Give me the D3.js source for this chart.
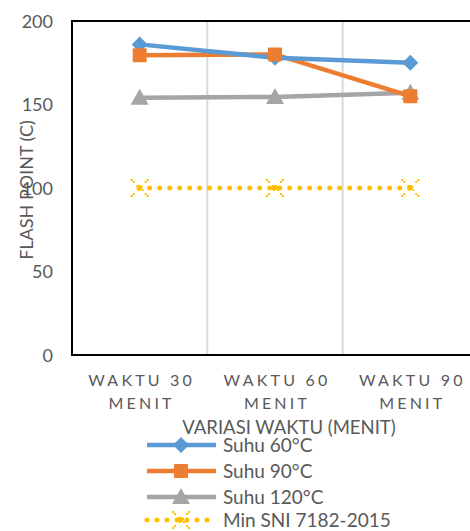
<!DOCTYPE html>
<html lang="en">
  <head>
    <script src="https://d3js.org/d3.v7.min.js"></script>
    <meta charset="utf-8">
    <style>
    body { margin: 0; background: #fff; overflow: hidden; }
    text { font-family: Lato, "Open Sans", sans-serif; fill: #595959; }
    </style>
    <title>Flash point</title>
  </head>
  <body>
    <script>
// data
var categories = ['WAKTU 30 MENIT', 'WAKTU 60 MENIT', 'WAKTU 90 MENIT'];
var suhu60 = [186, 178, 175];
var suhu90 = [179.5, 180, 155];
var suhu120 = [154, 154.5, 157];
var minSNI = [100, 100, 100];
var yTicks = [0, 50, 100, 150, 200];

var series = [
  {name: 'Suhu 60\u00B0C', values: suhu60, color: '#5B9BD5', marker: 'diamond'},
  {name: 'Suhu 90\u00B0C', values: suhu90, color: '#ED7D31', marker: 'square'},
  {name: 'Suhu 120\u00B0C', values: suhu120, color: '#A5A5A5', marker: 'triangle'},
  {name: 'Min SNI 7182-2015', values: minSNI, color: '#FFC000', marker: 'star'}
];

var w = 470, h = 531;
var svg = d3.select('body').append('svg').attr('width', w).attr('height', h);

var pLeft = 72, pTop = 21, pRight = 478, pBottom = 355;

var x = d3.scaleBand().domain(categories).range([pLeft, pRight]);
var y = d3.scaleLinear().domain([0, 200]).range([pBottom, pTop]);

// vertical gridlines between categories
svg.append('g').selectAll('line')
   .data(categories.slice(1))
   .enter().append('line')
   .attr('x1', function(d) { return x(d); })
   .attr('x2', function(d) { return x(d); })
   .attr('y1', pTop).attr('y2', pBottom)
   .attr('stroke', '#d9d9d9').attr('stroke-width', 2);

// frame
svg.append('rect')
   .attr('x', pLeft).attr('y', pTop)
   .attr('width', pRight - pLeft).attr('height', pBottom - pTop)
   .attr('fill', 'none').attr('stroke', '#000').attr('stroke-width', 2);

// y tick labels
svg.append('g').selectAll('text')
   .data(yTicks)
   .enter().append('text')
   .attr('x', 53).attr('y', function(d) { return y(d) + 6.5; })
   .attr('text-anchor', 'end')
   .style('font-size', '18px')
   .text(function(d) { return d; });

// x tick labels, two lines each
var xl = svg.append('g').selectAll('text')
   .data(categories)
   .enter().append('text')
   .attr('text-anchor', 'middle')
   .style('font-size', '16px')
   .style('letter-spacing', '3.2px');
xl.append('tspan')
  .attr('x', function(d) { return x(d) + x.bandwidth() / 2 + 2; })
  .attr('y', 386)
  .text(function(d) { return d.split(' ').slice(0, 2).join(' '); });
xl.append('tspan')
  .attr('x', function(d) { return x(d) + x.bandwidth() / 2 + 2; })
  .attr('y', 409)
  .text(function(d) { return d.split(' ')[2]; });

// axis titles
svg.append('text')
   .attr('x', 289).attr('y', 434)
   .attr('text-anchor', 'middle')
   .style('font-size', '18.5px')
   .text('VARIASI WAKTU (MENIT)');
svg.append('text')
   .attr('transform', 'translate(33,' + 190 + ') rotate(-90)')
   .attr('text-anchor', 'middle')
   .style('font-size', '18px')
   .text('FLASH POINT (C)');

var line = d3.line()
   .x(function(d, i) { return x(categories[i]) + x.bandwidth() / 2; })
   .y(function(d) { return y(d); });

function drawMarker(g, type, color) {
  if (type === 'diamond') {
    g.append('path').attr('d', 'M0,-8L8,0L0,8L-8,0Z').attr('fill', color);
  } else if (type === 'square') {
    g.append('rect').attr('x', -7).attr('y', -7).attr('width', 14).attr('height', 14)
     .attr('rx', 1).attr('fill', color);
  } else if (type === 'triangle') {
    g.append('path').attr('d', 'M0,-9L9,7L-9,7Z').attr('fill', color);
  } else {
    // Excel star-ish marker: little squares in an X pattern
    var pts = [[-2,-1],[2,-1],[-1,2],[3,2],
               [-6,-6],[-8,-8],[6,-6],[8,-8],[-6,6],[-8,8],[6,6],[8,8]];
    g.selectAll('rect').data(pts).enter().append('rect')
     .attr('x', function(p) { return p[0] - 1; })
     .attr('y', function(p) { return p[1] - 1; })
     .attr('width', 2).attr('height', 2)
     .attr('fill', color);
    g.append('rect').attr('x', -3).attr('y', -3).attr('width', 5).attr('height', 5).attr('fill', color);
  }
}

// draw series (yellow line first so it stays behind)
[3, 2, 1, 0].forEach(function(k) {
  var s = series[k];
  var p = svg.append('path')
     .datum(s.values)
     .attr('d', line)
     .attr('fill', 'none')
     .attr('stroke', s.color);
  if (k === 3) {
    p.attr('stroke-width', 5).attr('stroke-linecap', 'round').attr('stroke-dasharray', '0,10');
  } else {
    p.attr('stroke-width', 4.5);
  }
});
[3, 2, 0, 1].forEach(function(k) {
  var s = series[k];
  s.values.forEach(function(v, i) {
    var g = svg.append('g')
       .attr('transform', 'translate(' + (x(categories[i]) + x.bandwidth() / 2) + ',' + y(v) + ')');
    drawMarker(g, s.marker, s.color);
  });
});

// legend
var legY = [445, 471, 497, 520];
series.forEach(function(s, k) {
  var g = svg.append('g').attr('transform', 'translate(0,' + legY[k] + ')');
  var ln = g.append('line').attr('x1', 147).attr('x2', 216).attr('y1', 0).attr('y2', 0)
    .attr('stroke', s.color);
  if (k === 3) {
    ln.attr('stroke-width', 5).attr('stroke-linecap', 'round').attr('stroke-dasharray', '0,10');
  } else {
    ln.attr('stroke-width', 4.5);
  }
  var m = g.append('g').attr('transform', 'translate(181,0)');
  drawMarker(m, s.marker, s.color);
  g.append('text').attr('x', 223).attr('y', 7)
   .style('font-size', '19px')
   .text(s.name);
});
    </script>
  </body>
</html>
